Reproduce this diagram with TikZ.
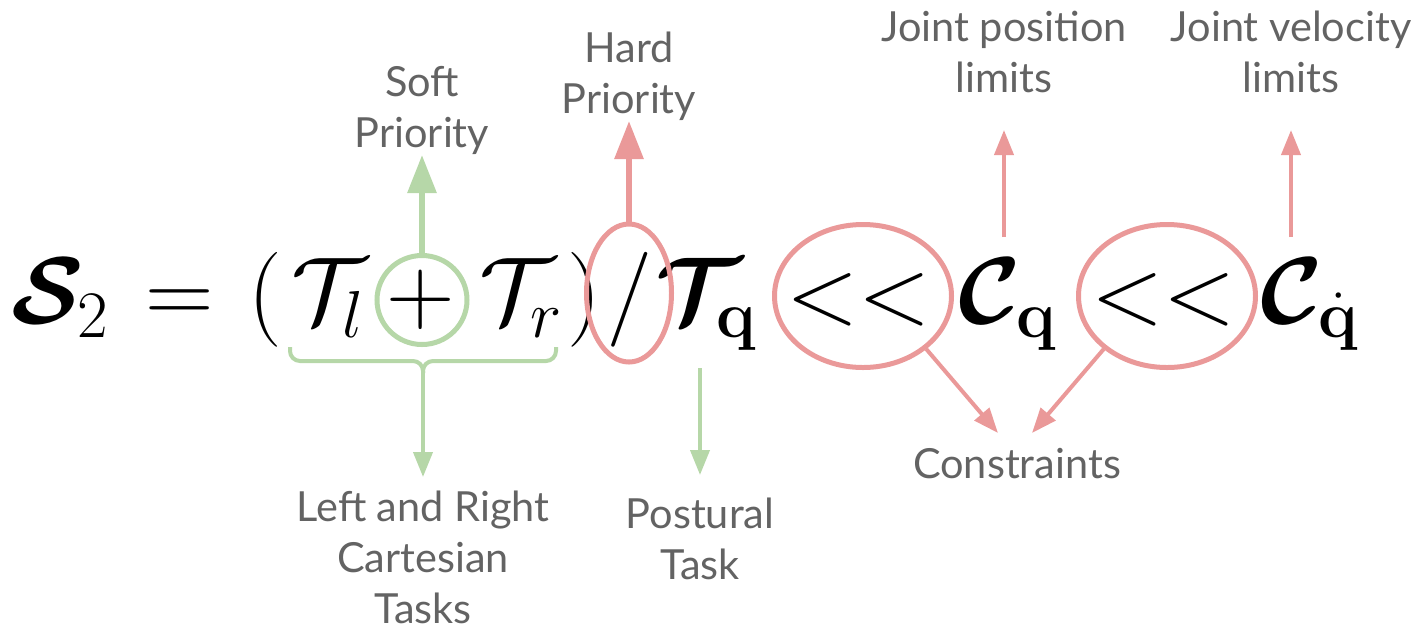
\RequirePackage{fix-cm}
\documentclass[tikz,border=0pt]{standalone}
\usepackage{amsmath}
\usepackage[no-math]{fontspec}
\setmainfont{Lato}
\usetikzlibrary{arrows.meta,shapes.geometric}

\DeclareMathAlphabet{\mathbcal}{OMS}{cmsy}{b}{n}

\definecolor{softgreen}{HTML}{B6D7A8}
\definecolor{hardred}{HTML}{EA9999}
\definecolor{notegray}{HTML}{636363}

\tikzset{
  eqpart/.style={anchor=base, inner sep=0pt, font=\fontsize{54}{56}\selectfont},
  note/.style={align=center, inner sep=0pt, text=notegray,
               font=\fontsize{23.6}{29}\selectfont},
  ring/.style={ellipse, inner sep=0pt, line width=1mm},
  bigarrow/.style={line width=1.2mm, -{Triangle[length=7.6mm,width=5.6mm]}},
  thinarrow/.style={line width=0.8mm, -{Triangle[length=5mm,width=3.8mm]}},
}

\begin{document}
\begin{tikzpicture}[x=0.2mm, y=-0.2mm]
\useasboundingbox (0,0) rectangle (1420,625);

% ---- (1) the formula, piece by piece on one baseline -------------
\node[eqpart] (S2)    at (60,323)   {$\mathbcal{S}_2$};
\node[eqpart] (eq)    at (180,323)  {$=$};
\node[eqpart] (lpar)  at (265,323)  {$($};
\node[eqpart] (Tl)    at (328,323)  {$\mathcal{T}_l$};
\node[eqpart] (plus)  at (421,323)  {$+$};
\node[eqpart] (Tr)    at (521,323)  {$\mathcal{T}_r$};
\node[eqpart] (rpar)  at (584,323)  {$)$};
\node[eqpart] (slash) at (630,323)  {$/$};
\node[eqpart] (Tq)    at (706,323)  {$\mathbcal{T}_{\mathbf{q}}$};
\node[eqpart] (lt1)   at (859,323)  {$<<$};
\node[eqpart] (Cq)    at (1008,323) {$\mathbcal{C}_{\mathbf{q}}$};
\node[eqpart] (lt2)   at (1164,323) {$<<$};
\node[eqpart] (Cqd)   at (1310,323) {$\mathbcal{C}_{\dot{\mathbf{q}}}$};

% ---- (2) rings round the operators -------------------------------
\node[ring, draw=softgreen, minimum width=18mm, minimum height=17.8mm]
      (plusring) at (422,300) {};
\node[ring, draw=hardred, minimum width=17mm, minimum height=27.6mm]
      (slashring) at (629,293) {};
\node[ring, draw=hardred, minimum width=35.4mm, minimum height=28.6mm]
      (ring1) at (863,296) {};
\node[ring, draw=hardred, minimum width=35.4mm, minimum height=28.6mm]
      (ring2) at (1167,296) {};

% ---- (3) labels ---------------------------------------------------
\node[note, anchor=south] (soft) at (422,155) {Soft\\Priority};
\node[note, anchor=south] (hard) at (629,121) {Hard\\Priority};
\node[note, anchor=south] (jpos) at (1004,93) {Joint position\\limits};
\node[note, anchor=south] (jvel) at (1291,93) {Joint velocity\\limits};
\node[note, anchor=north] (left) at (423,491) {Left and Right\\Cartesian\\Tasks};
\node[note, anchor=north] (post) at (700,498) {Postural\\Task};
\node[note, anchor=base]  (cons) at (1017,478) {Constraints};

% ---- (4) brace under the two Cartesian tasks ---------------------
\coordinate (bracetip) at (423,373);
\draw[softgreen, line width=0.8mm, rounded corners=2mm]
      (290,347) |- (423,361) -- (bracetip);
\draw[softgreen, line width=0.8mm, rounded corners=2mm]
      (556,347) |- (423,361) -- (bracetip);

% ---- (5) arrows ---------------------------------------------------
\coordinate (postfoot) at (700,368);
\coordinate (jposfoot) at (1004,237);
\coordinate (jvelfoot) at (1291,237);
\coordinate (constipL) at (998,433);
\coordinate (constipR) at (1032,433);

\draw[bigarrow, softgreen] (plusring.north) -- (soft.south);
\draw[bigarrow, hardred] (slashring.north) -- (hard.south);
\draw[thinarrow, softgreen, shorten >=2.8mm] (bracetip) -- (left.north);
\draw[thinarrow, softgreen, shorten >=4.6mm] (postfoot) -- (post.north);
\draw[thinarrow, hardred, shorten >=7.4mm] (jposfoot) -- (jpos.south);
\draw[thinarrow, hardred, shorten >=7.4mm] (jvelfoot) -- (jvel.south);
\draw[thinarrow, hardred] (ring1.-40) -- (constipL);
\draw[thinarrow, hardred] (ring2.-140) -- (constipR);

\end{tikzpicture}
\end{document}
